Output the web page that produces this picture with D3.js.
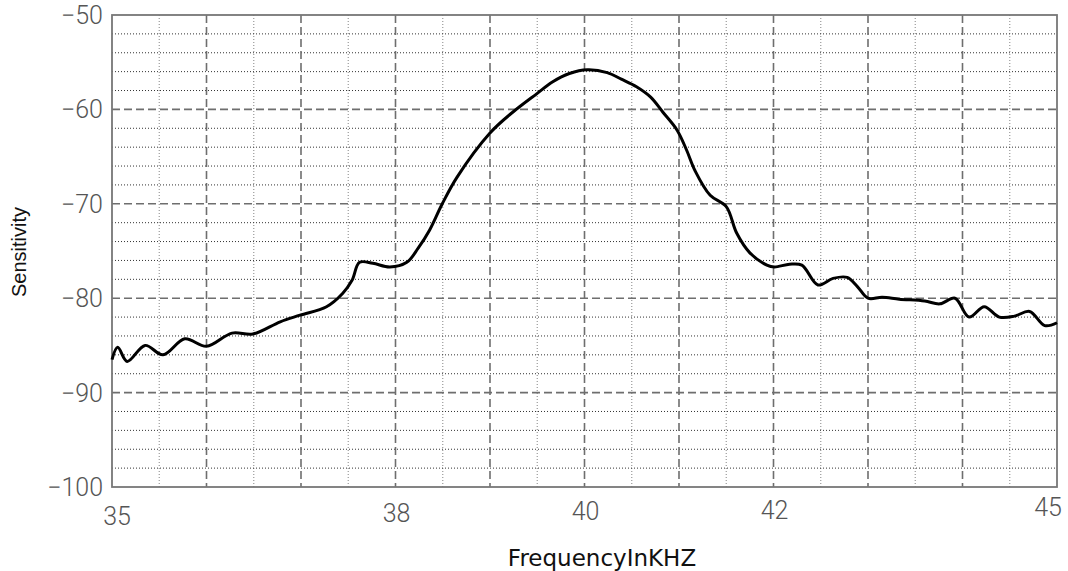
<!DOCTYPE html>
<html><head><meta charset="utf-8">
<script src="https://cdn.jsdelivr.net/npm/d3@7"></script>
<style>
html,body{margin:0;padding:0;background:#fff;}
svg{display:block;}
</style></head>
<body>
<svg id="chart" width="1068" height="571"></svg>
<script>
const freq = [35.00,35.06,35.16,35.35,35.54,35.77,36.00,36.27,36.49,36.78,36.99,37.27,37.44,37.54,37.62,37.76,37.94,38.12,38.24,38.36,38.49,38.65,39.00,39.24,39.50,39.66,39.84,40.03,40.24,40.39,40.55,40.70,40.83,40.98,41.08,41.17,41.33,41.50,41.61,41.75,41.93,42.01,42.17,42.30,42.47,42.63,42.78,42.89,43.00,43.15,43.33,43.60,43.76,43.92,44.07,44.23,44.39,44.55,44.71,44.87,45.00];
const sens = [-86.5,-85.2,-86.7,-85.0,-86.0,-84.3,-85.1,-83.7,-83.8,-82.5,-81.8,-80.9,-79.5,-78.1,-76.2,-76.3,-76.7,-76.2,-74.7,-72.8,-70.1,-67.2,-62.5,-60.3,-58.3,-57.1,-56.2,-55.8,-56.1,-56.8,-57.6,-58.7,-60.3,-62.2,-64.3,-66.5,-69.1,-70.3,-73.1,-75.2,-76.5,-76.7,-76.4,-76.5,-78.6,-77.9,-77.8,-78.8,-80.0,-79.9,-80.1,-80.3,-80.6,-80.0,-82.0,-80.9,-82.0,-81.9,-81.4,-82.9,-82.6];
const xTickLabels = [35,38,40,42,45];
const yTickLabels = [-50,-60,-70,-80,-90,-100];
const xMajorGrid = [36,37,38,39,40,41,42,43,44];
const xMinorGrid = [35.5,36.5,37.5,38.5,39.5,40.5,41.5,42.5,43.5,44.5];
const yMajorGrid = [-60,-70,-80,-90];
const yMinorGrid = [-52,-54,-56,-58,-62,-64,-66,-68,-72,-74,-76,-78,-82,-84,-86,-88,-92,-94,-96,-98];

const L=112, R=1057, T=15, B=487;
const svg = d3.select("#chart");
const x = d3.scaleLinear().domain([35,45]).range([L,R]);
const y = d3.scaleLinear().domain([-100,-50]).range([B,T]);

const g = svg.append("g");
// minor grid
g.selectAll(".vmin").data(xMinorGrid).enter().append("line")
  .attr("x1",d=>x(d)).attr("x2",d=>x(d)).attr("y1",T).attr("y2",B)
  .attr("stroke","#999").attr("stroke-width",1.2).attr("stroke-dasharray","1,2");
g.selectAll(".hmin").data(yMinorGrid).enter().append("line")
  .attr("x1",L).attr("x2",R).attr("y1",d=>y(d)).attr("y2",d=>y(d))
  .attr("stroke","#333").attr("stroke-width",1).attr("stroke-dasharray","1,2");
// major grid
g.selectAll(".vmaj").data(xMajorGrid).enter().append("line")
  .attr("x1",d=>x(d)).attr("x2",d=>x(d)).attr("y1",T).attr("y2",B)
  .attr("stroke","#6e6e6e").attr("stroke-width",1.6).attr("stroke-dasharray","8,4");
g.selectAll(".hmaj").data(yMajorGrid).enter().append("line")
  .attr("x1",L).attr("x2",R).attr("y1",d=>y(d)).attr("y2",d=>y(d))
  .attr("stroke","#6e6e6e").attr("stroke-width",1.6).attr("stroke-dasharray","8,4");
// frame
g.append("rect").attr("x",L).attr("y",T).attr("width",R-L).attr("height",B-T)
  .attr("fill","none").attr("stroke","#777").attr("stroke-width",1.8);

// curve
const line = d3.line().x((d,i)=>x(freq[i])).y(d=>y(d)).curve(d3.curveCatmullRom.alpha(0.5));
g.append("path").attr("d",line(sens)).attr("fill","none")
  .attr("stroke","#000").attr("stroke-width",3).attr("stroke-linejoin","round");

// y tick labels
const tickFont = "Roboto, 'DejaVu Sans', sans-serif";
g.selectAll(".yl").data(yTickLabels).enter().append("text")
  .attr("x",L-9).attr("y",d=>y(d)).attr("dy","0.36em")
  .attr("text-anchor","end").attr("font-family",tickFont).attr("font-weight",300)
  .attr("font-size",25).attr("fill","#555")
  .text(d=>d.toString().replace("-","\u2212"));
// x tick labels
g.selectAll(".xl").data(xTickLabels).enter().append("text")
  .attr("x",(d,i)=>x(d) + (i===0?5:(i===xTickLabels.length-1?-9:1)))
  .attr("y",(d)=>{const px=x(d); return 516 - (px-117)*0.0097;}).attr("dy","0.36em")
  .attr("text-anchor","middle").attr("font-family",tickFont).attr("font-weight",300)
  .attr("font-size",25).attr("fill","#555")
  .text(d=>d);

// axis titles
svg.append("text").attr("transform","translate(26,252) rotate(-90)")
  .attr("text-anchor","middle").attr("font-family","'Liberation Sans', Arial, sans-serif")
  .attr("font-size",20).attr("fill","#111").text("Sensitivity");
svg.append("text").attr("x",602).attr("y",566)
  .attr("text-anchor","middle").attr("font-family","'DejaVu Sans', Verdana, sans-serif")
  .attr("font-size",23).attr("fill","#111").text("FrequencyInKHZ");
</script>
</body></html>
